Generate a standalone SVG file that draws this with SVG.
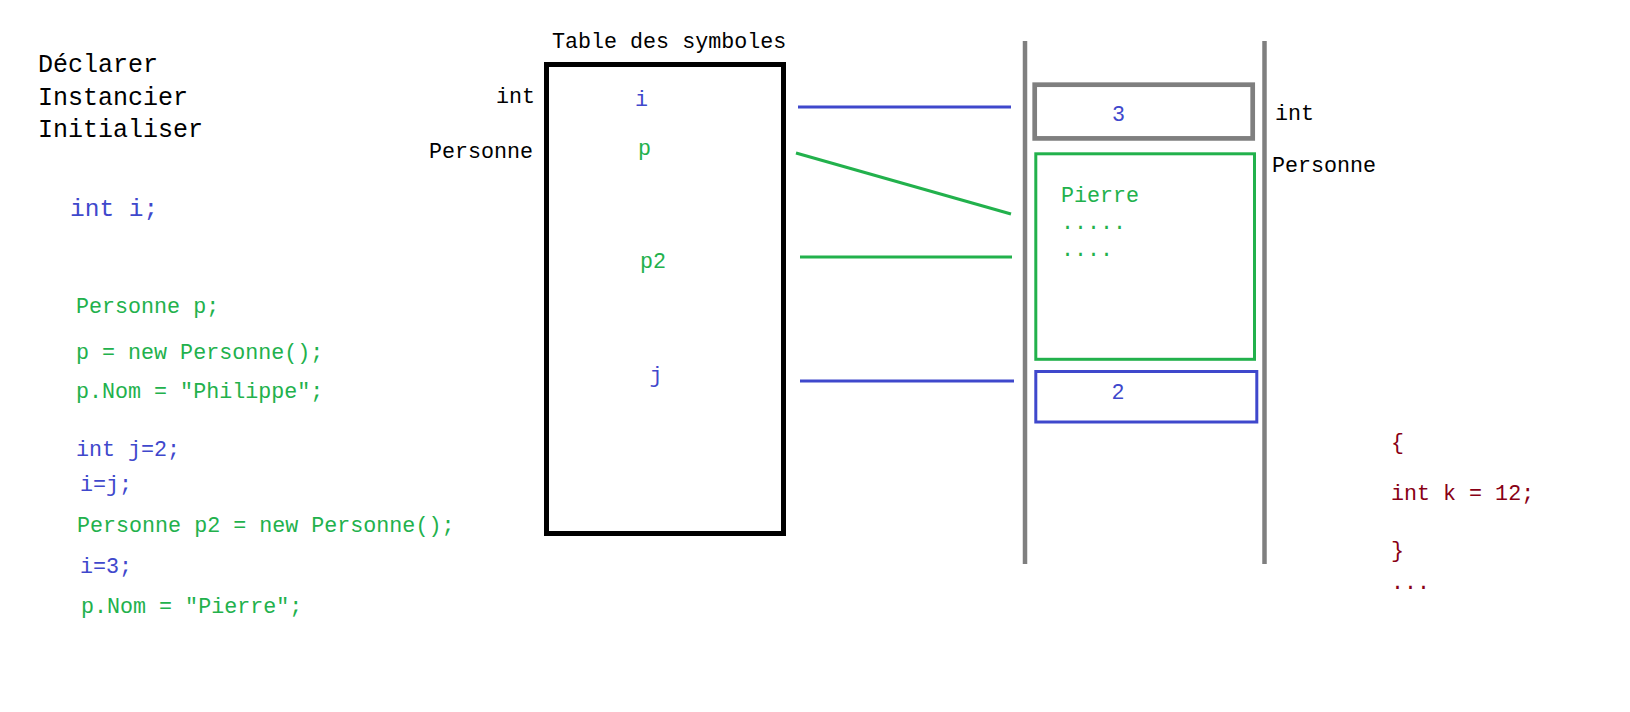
<svg xmlns="http://www.w3.org/2000/svg" width="1630" height="712" viewBox="0 0 1630 712">
<style>
text{font-family:"Liberation Mono","DejaVu Sans Mono",monospace;font-size:21.7px}
.k{fill:#000}
.b{fill:#3F48CC}
.g{fill:#22B14C}
.r{fill:#880015}
.big{font-size:25px}
.ln{stroke-width:3;fill:none}
</style>
<rect width="1630" height="712" fill="#fff"/>
<g id="steps">
<text class="k big" x="38" y="72">Déclarer</text>
<text class="k big" x="38" y="104.5">Instancier</text>
<text class="k big" x="38" y="136.5">Initialiser</text>
</g>
<g id="code">
<text class="b" x="70" y="216" style="font-size:24.5px">int i;</text>
<text class="g" x="76" y="313">Personne p;</text>
<text class="g" x="76" y="359">p = new Personne();</text>
<text class="g" x="76" y="398">p.Nom = "Philippe";</text>
<text class="b" x="76" y="456">int j=2;</text>
<text class="b" x="80" y="491">i=j;</text>
<text class="g" x="77" y="532">Personne p2 = new Personne();</text>
<text class="b" x="80" y="573">i=3;</text>
<text class="g" x="81" y="613">p.Nom = "Pierre";</text>
</g>
<g id="table">
<text class="k" x="552" y="47.5">Table des symboles</text>
<rect x="546.5" y="64.5" width="237" height="469" fill="none" stroke="#000" stroke-width="5"/>
<text class="k" x="535" y="103" text-anchor="end">int</text>
<text class="k" x="533" y="158" text-anchor="end">Personne</text>
<text class="b" x="641.5" y="106" text-anchor="middle">i</text>
<text class="g" x="644.5" y="155" text-anchor="middle">p</text>
<text class="g" x="653" y="268" text-anchor="middle">p2</text>
<text class="b" x="656" y="382" text-anchor="middle">j</text>
</g>
<g id="connectors">
<line class="ln" x1="798" y1="107" x2="1011" y2="107" stroke="#3F48CC"/>
<line class="ln" x1="796" y1="153" x2="1011" y2="214" stroke="#22B14C"/>
<line class="ln" x1="800" y1="257" x2="1012" y2="257" stroke="#22B14C"/>
<line class="ln" x1="800" y1="381" x2="1014" y2="381" stroke="#3F48CC"/>
</g>
<g id="memory">
<line x1="1025" y1="41" x2="1025" y2="564" stroke="#7F7F7F" stroke-width="4.5"/>
<line x1="1264.5" y1="41" x2="1264.5" y2="564" stroke="#7F7F7F" stroke-width="4.5"/>
</g>
<g id="cell-int">
<rect x="1034.7" y="84.7" width="218" height="53.7" fill="none" stroke="#7F7F7F" stroke-width="4.7"/>
<text class="b" x="1118.5" y="121" text-anchor="middle">3</text>
<text class="k" x="1275" y="119.5">int</text>
</g>
<g id="cell-personne">
<rect x="1035.8" y="153.8" width="218.7" height="205.5" fill="none" stroke="#22B14C" stroke-width="3"/>
<text class="g" x="1061" y="202">Pierre</text>
<text class="g" x="1061" y="229">.....</text>
<text class="g" x="1061" y="256">....</text>
<text class="k" x="1272" y="171.5">Personne</text>
</g>
<g id="cell-j">
<rect x="1035.8" y="371.5" width="221" height="50.5" fill="none" stroke="#3F48CC" stroke-width="3"/>
<text class="b" x="1118" y="398.5" text-anchor="middle">2</text>
</g>
<g id="block">
<text class="r" x="1391" y="449">{</text>
<text class="r" x="1391" y="500">int k = 12;</text>
<text class="r" x="1391" y="557">}</text>
<text class="r" x="1391" y="589">...</text>
</g>
</svg>
